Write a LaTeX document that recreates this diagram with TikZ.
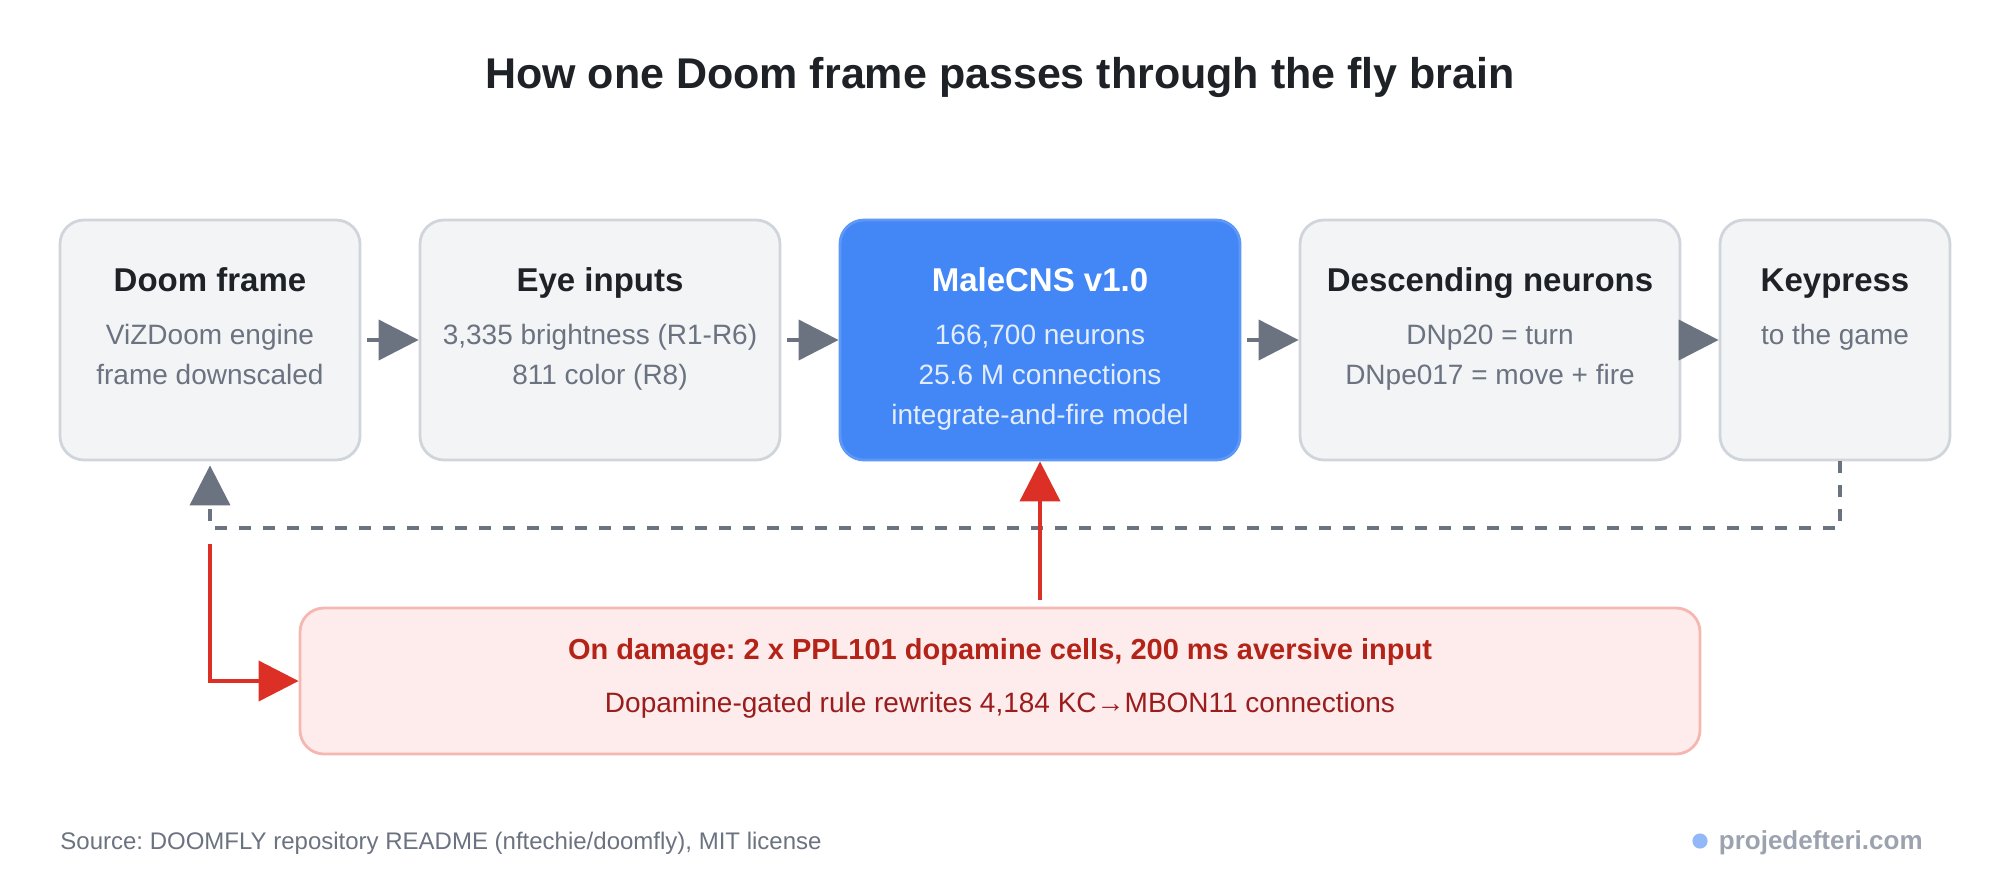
\documentclass[tikz,border=0pt]{standalone}
\usepackage{fontspec}
\setmainfont{Liberation Sans}
\frenchspacing
\usetikzlibrary{arrows.meta,calc}
\definecolor{BoxFill}{HTML}{F3F4F6}
\definecolor{BoxLine}{HTML}{D0D5DC}
\definecolor{InkDark}{HTML}{1E2227}
\definecolor{InkGray}{HTML}{6B7280}
\definecolor{CnsBlue}{HTML}{4287F5}
\definecolor{CnsLine}{HTML}{5D98F6}
\definecolor{CnsSub}{HTML}{E4EDFD}
\definecolor{HitRed}{HTML}{DC2F26}
\definecolor{DmgFill}{HTML}{FDECEB}
\definecolor{DmgLine}{HTML}{F5B7B1}
\definecolor{DmgHead}{HTML}{B42318}
\definecolor{DmgText}{HTML}{9B1C1C}
\definecolor{MarkGray}{HTML}{9CA3AF}
\definecolor{MarkDot}{HTML}{93B8F8}

\begin{document}
\begin{tikzpicture}[x=0.5pt, y=-0.5pt,
		box/.style={draw=BoxLine, fill=BoxFill, line width=1.4pt, rounded corners=12pt, minimum height=120pt, inner sep=0pt},
		cnsbox/.style={box, draw=CnsLine, fill=CnsBlue},
		dmgbox/.style={box, draw=DmgLine, fill=DmgFill, minimum height=73pt},
		ttl/.style={anchor=base, inner sep=0pt, text=InkDark, font=\fontsize{16.5}{20}\selectfont\bfseries},
		sub/.style={anchor=base, inner sep=0pt, text=InkGray, font=\fontsize{14}{17}\selectfont},
		flow/.style={draw=InkGray, line width=2pt, -{Triangle[length=20pt, width=20pt]}},
		fb/.style={flow, dash pattern=on 6pt off 6pt},
		hit/.style={flow, draw=HitRed}]
		\useasboundingbox (0,0) rectangle (2000,880);
		\node[ttl, font=\fontsize{21.5}{26}\selectfont\bfseries] (title) at (1000,88) {How one Doom frame passes through the fly brain};
		\node[box, minimum width=150pt] (doom) at (210,340) {};
		\node[box, minimum width=180pt] (eye) at (600,340) {};
		\node[cnsbox, minimum width=200pt] (cns) at (1040,340) {};
		\node[box, minimum width=190pt] (desc) at (1490,340) {};
		\node[box, minimum width=115pt] (key) at (1835,340) {};
		\node[dmgbox, minimum width=700pt] (dmg) at (1000,681) {};
		\node[ttl] (doomT) at (210,291) {Doom frame};
		\node[sub] (doomA) at (210,344) {ViZDoom engine};
		\node[sub] (doomB) at (210,384) {frame downscaled};
		\node[ttl] (eyeT) at (600,291) {Eye inputs};
		\node[sub] (eyeA) at (600,344) {3,335 brightness (R1-R6)};
		\node[sub] (eyeB) at (600,384) {811 color (R8)};
		\node[ttl, text=white] (cnsT) at (1040,291) {MaleCNS v1.0};
		\node[sub, text=CnsSub] (cnsA) at (1040,344) {166,700 neurons};
		\node[sub, text=CnsSub] (cnsB) at (1040,384) {25.6 M connections};
		\node[sub, text=CnsSub] (cnsC) at (1040,424) {integrate-and-fire model};
		\node[ttl] (descT) at (1490,291) {Descending neurons};
		\node[sub] (descA) at (1490,344) {DNp20 = turn};
		\node[sub] (descB) at (1490,384) {DNpe017 = move + fire};
		\node[ttl] (keyT) at (1835,291) {Keypress};
		\node[sub] (keyA) at (1835,344) {to the game};
		\node[ttl, text=DmgHead, font=\fontsize{14.5}{18}\selectfont\bfseries] (dmgT) at (1000,659) {On damage: 2 x PPL101 dopamine cells, 200 ms aversive input};
		\node[sub, text=DmgText] (dmgA) at (1000,712) {Dopamine-gated rule rewrites 4,184 KC→MBON11 connections};
		\draw[flow, shorten <=3pt] (doom.east) -- (eye.west);
		\draw[flow, shorten <=3pt] (eye.east) -- (cns.west);
		\draw[flow, shorten <=3pt] (cns.east) -- (desc.west);
		\draw[flow] (desc.east) -- (key.west);
		\coordinate (fbY) at (0,528);
		\draw[fb] ([xshift=2.5pt]key.south) -- ([xshift=2.5pt]key.south |- fbY) -| ([yshift=-2pt]doom.south);
		\coordinate (hitStart) at (210,544);
		\draw[hit] (hitStart) |- (dmg.west);
		\draw[hit, shorten <=3.5pt] (cns.south |- dmg.north) -- (cns.south);
		\node[sub, anchor=base west, font=\fontsize{12}{14}\selectfont] (source) at (60,849) {Source: DOOMFLY repository README (nftechie/doomfly), MIT license};
		\node[sub, anchor=base east, text=MarkGray, font=\fontsize{13}{15}\selectfont\bfseries] (mark) at (1923,849) {projedefteri.com};
		\fill[MarkDot] (1700,841) circle (3.8pt);
	\end{tikzpicture}
\end{document}
